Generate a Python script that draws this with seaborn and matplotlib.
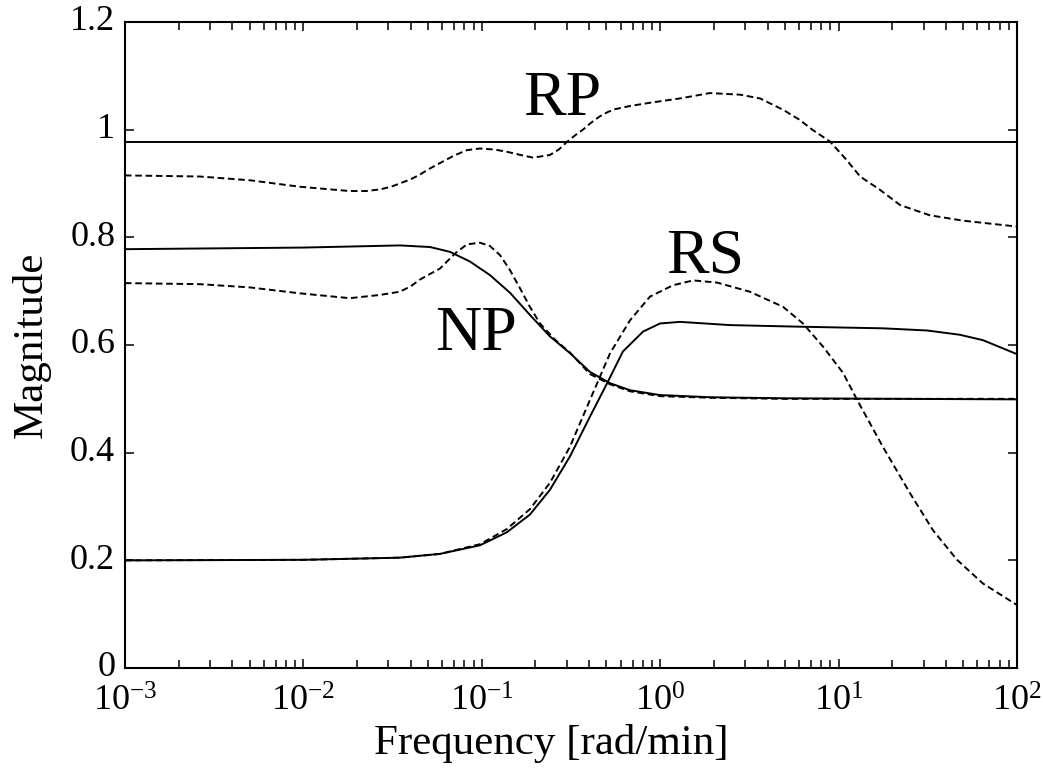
import numpy as np
import pandas as pd
import matplotlib
matplotlib.use("Agg")
import matplotlib.pyplot as plt
import matplotlib.ticker as mticker
import matplotlib.transforms as mtransforms
import seaborn as sns

# ---------------- data ----------------
# RP, solid
rp_solid_freq = [0.001, 0.01, 0.1, 1.0, 10.0, 100.0]
rp_solid_mag = [0.978, 0.978, 0.978, 0.978, 0.978, 0.978]

# RP, dashed
rp_dash_freq = [0.001, 0.00263, 0.00501, 0.00955, 0.0182, 0.0225, 0.0269, 0.031, 0.0347,
                0.04, 0.0447, 0.05, 0.0583, 0.07, 0.0826, 0.0977, 0.118, 0.138, 0.165,
                0.194, 0.241, 0.27, 0.302, 0.335, 0.369, 0.41, 0.460, 0.51,
                0.558, 0.678, 0.877, 1.29, 1.90, 2.80, 3.63, 4.88, 6.0, 7.19, 8.95,
                11.0, 13.2, 17.1, 22.1, 32.4, 49.8, 100.0]
rp_dash_mag = [0.915, 0.913, 0.906, 0.894, 0.886, 0.886, 0.889, 0.894, 0.900,
               0.908, 0.916, 0.926, 0.938, 0.952, 0.962, 0.965, 0.963, 0.959, 0.953,
               0.948, 0.953, 0.963, 0.978, 0.990, 1.000, 1.013, 1.025, 1.033,
               1.038, 1.044, 1.050, 1.058, 1.068, 1.065, 1.058, 1.037, 1.019, 0.999, 0.978,
               0.945, 0.913, 0.888, 0.860, 0.841, 0.831, 0.820]

# NP, solid
np_solid_freq = [0.001, 0.01, 0.0347, 0.0513, 0.0664, 0.0859, 0.111, 0.144, 0.186,
                 0.241, 0.312, 0.404, 0.524, 0.678, 0.998, 1.90, 5.0, 100.0]
np_solid_mag = [0.778, 0.781, 0.785, 0.782, 0.773, 0.755, 0.730, 0.697, 0.656,
                0.616, 0.585, 0.550, 0.529, 0.516, 0.507, 0.503, 0.501, 0.499]

# NP, dashed
np_dash_freq = [0.001, 0.00263, 0.00501, 0.00955, 0.0182, 0.0269, 0.0347, 0.04, 0.0447,
                0.05, 0.0583, 0.0708, 0.0826, 0.0977, 0.111, 0.1265, 0.144, 0.164, 0.186,
                0.212, 0.257, 0.312, 0.404, 0.524, 0.678, 0.998, 1.90, 5.0, 100.0]
np_dash_mag = [0.715, 0.713, 0.707, 0.696, 0.687, 0.693, 0.699, 0.709, 0.721,
               0.730, 0.742, 0.770, 0.787, 0.790, 0.784, 0.767, 0.739, 0.705, 0.671,
               0.640, 0.610, 0.586, 0.546, 0.527, 0.514, 0.505, 0.502, 0.500, 0.500]

# RS, solid
rs_solid_freq = [0.001, 0.01, 0.0347, 0.0583, 0.0977, 0.138, 0.186, 0.241, 0.312,
                 0.404, 0.504, 0.618, 0.802, 0.998, 1.29, 2.46, 6.08, 17.7, 31.3,
                 47.9, 64.4, 100.0]
rs_solid_mag = [0.200, 0.201, 0.205, 0.212, 0.228, 0.252, 0.285, 0.331, 0.393,
                0.467, 0.529, 0.588, 0.625, 0.640, 0.643, 0.637, 0.634, 0.631, 0.627,
                0.619, 0.609, 0.583]

# RS, dashed
rs_dash_freq = [0.001, 0.01, 0.0347, 0.0583, 0.0977, 0.138, 0.186, 0.241, 0.312,
                0.404, 0.524, 0.678, 0.877, 1.18, 1.53, 2.08, 3.18, 4.88, 6.31,
                8.18, 10.6, 12.7, 17.7, 25.1, 33.8, 46.1, 64.4, 100.0]
rs_dash_mag = [0.200, 0.201, 0.205, 0.212, 0.230, 0.258, 0.295, 0.344, 0.411,
               0.498, 0.585, 0.646, 0.690, 0.711, 0.720, 0.716, 0.699, 0.671, 0.640,
               0.597, 0.548, 0.498, 0.411, 0.325, 0.256, 0.201, 0.157, 0.117]

labels = ["RP", "NP", "RS"]
label_x = [0.282, 0.093, 1.78]
label_y = [1.027, 0.591, 0.734]

x_label = "Frequency [rad/min]"
y_label = "Magnitude"
y_ticks = [0, 0.2, 0.4, 0.6, 0.8, 1.0, 1.2]

# ---------------- styling ----------------
sns.set_theme(style="ticks")
plt.rcParams["font.family"] = ["Liberation Serif", "DejaVu Serif"]
plt.rcParams["mathtext.fontset"] = "stix"
for key in ["text.color", "axes.labelcolor", "xtick.color", "ytick.color",
            "axes.edgecolor"]:
    plt.rcParams[key] = "black"

fig = plt.figure(figsize=(10.43, 7.69), dpi=100)
ax = fig.add_axes([0.1198, 0.1313, 0.9751 - 0.1198, 0.9714 - 0.1313])

dash = (0, (3.4, 1.9))
curves = [
    (rp_solid_freq, rp_solid_mag, "-"),
    (rp_dash_freq, rp_dash_mag, dash),
    (np_solid_freq, np_solid_mag, "-"),
    (np_dash_freq, np_dash_mag, dash),
    (rs_solid_freq, rs_solid_mag, "-"),
    (rs_dash_freq, rs_dash_mag, dash),
]
for fx, fy, ls in curves:
    df = pd.DataFrame({"freq": fx, "mag": fy})
    sns.lineplot(data=df, x="freq", y="mag", ax=ax, color="black",
                 linewidth=1.4, linestyle=ls, sort=False)

ax.set_xscale("log")
ax.set_xlim(1e-3, 1e2)
ax.set_ylim(0, 1.2)

ax.xaxis.set_major_locator(mticker.LogLocator(base=10, numticks=10))
ax.xaxis.set_minor_locator(mticker.LogLocator(base=10, subs=np.arange(2, 10), numticks=20))
ax.xaxis.set_minor_formatter(mticker.NullFormatter())
ax.xaxis.set_major_formatter(mticker.FuncFormatter(
    lambda v, p: r"$\mathregular{10^{%d}}$" % int(round(np.log10(v)))))
ax.set_yticks(y_ticks)
ax.yaxis.set_major_formatter(mticker.FuncFormatter(lambda v, p: "%g" % v))

ax.tick_params(axis="both", which="major", direction="in", length=6.5, width=1.1,
               top=True, right=True, labelsize=26, pad=7, colors="black")
ax.tick_params(axis="both", which="minor", direction="in", length=5.5, width=1.1,
               top=True, right=True, colors="black")
ax.tick_params(axis="x", which="major", pad=13)
for s in ax.spines.values():
    s.set_linewidth(1.5)
    s.set_color("black")

# lift the y tick labels a few pixels, as in the reference
offset = mtransforms.ScaledTranslation(0, 3 / 72, fig.dpi_scale_trans)
for lbl in ax.get_yticklabels():
    lbl.set_transform(lbl.get_transform() + offset)

ax.set_xlabel(x_label, fontsize=31)
ax.xaxis.set_label_coords(0.4776, -0.086, transform=ax.transAxes)
ax.xaxis.label.set_va("top")
ax.set_ylabel(y_label, fontsize=31, labelpad=14)

for t, x, y in zip(labels, label_x, label_y):
    ax.text(x, y, t, fontsize=46, ha="center", va="baseline", color="black")

fig.savefig("out.png", dpi=100)
